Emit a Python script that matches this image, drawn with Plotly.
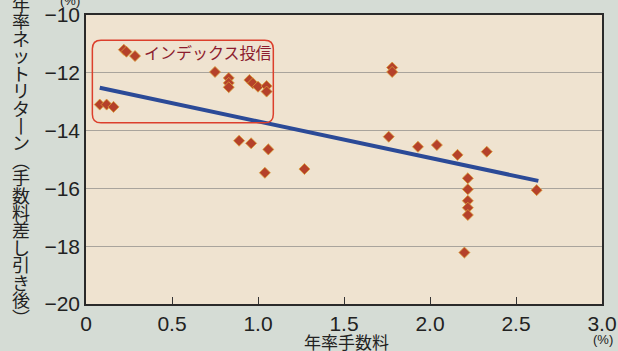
import plotly.graph_objects as go

# ---- data ----
fee = [0.08, 0.12, 0.16, 0.22, 0.235, 0.285, 0.75, 0.83, 0.83, 0.83,
       0.95, 0.97, 1.00, 1.05, 1.05, 0.89, 0.96, 1.06, 1.04, 1.27,
       1.78, 1.78, 1.76, 1.93, 2.04, 2.16, 2.33,
       2.22, 2.22, 2.22, 2.22, 2.22, 2.20, 2.62]
net_return = [-13.1, -13.1, -13.18, -11.2, -11.27, -11.42, -11.97, -12.18, -12.35, -12.5,
              -12.25, -12.36, -12.48, -12.46, -12.65, -14.35, -14.44, -14.65, -15.46, -15.33,
              -11.82, -11.97, -14.21, -14.56, -14.5, -14.84, -14.73,
              -15.65, -16.03, -16.43, -16.67, -16.92, -18.22, -16.06]
trend_x = [0.08, 2.63]
trend_y = [-12.52, -15.74]
x_ticks = [0, 0.5, 1.0, 1.5, 2.0, 2.5, 3.0]
x_ticklabels = ["0", "0.5", "1.0", "1.5", "2.0", "2.5", "3.0"]
y_ticks = [-20, -18, -16, -14, -12, -10]
index_box = dict(x0=0.037, x1=1.089, y0=-13.73, y1=-10.87)
index_label = "インデックス投信"
x_title = "年率手数料"
y_title_chars = list("年率ネットリタ") + ["丨"] + list("ン") + ["︵"] + list("手数料差し引き後") + ["︶"]

W, H = 618, 351
ML, MR, MT, MB = 86, 16, 15, 47
PW = W - ML - MR
PH = H - MT - MB

NUM_FONT = "Liberation Sans, Arial, sans-serif"
JP_FONT = "Noto Sans CJK JP, sans-serif"


def px_x(px):
    return (px - ML) / PW


def px_y(py):
    return (H - MB - py) / PH


fig = go.Figure()
fig.add_trace(go.Scatter(
    x=trend_x, y=trend_y, mode="lines",
    line=dict(color="#2b4a97", width=4), hoverinfo="skip", showlegend=False))
fig.add_trace(go.Scatter(
    x=fee, y=net_return, mode="markers",
    marker=dict(symbol="diamond", size=8.5, color="#b5412a",
                line=dict(color="#dba03a", width=0.8)),
    showlegend=False))

# rounded rectangle around index funds
b = index_box
rx, ry = 0.05, 0.3
path = (f"M {b['x0']+rx},{b['y1']} L {b['x1']-rx},{b['y1']} "
        f"Q {b['x1']},{b['y1']} {b['x1']},{b['y1']-ry} "
        f"L {b['x1']},{b['y0']+ry} Q {b['x1']},{b['y0']} {b['x1']-rx},{b['y0']} "
        f"L {b['x0']+rx},{b['y0']} Q {b['x0']},{b['y0']} {b['x0']},{b['y0']+ry} "
        f"L {b['x0']},{b['y1']-ry} Q {b['x0']},{b['y1']} {b['x0']+rx},{b['y1']} Z")
fig.add_shape(type="path", path=path, xref="x", yref="y",
              line=dict(color="#dc3f2c", width=1.5), layer="above")

fig.add_annotation(x=0.709, y=-11.28, xref="x", yref="y", text=index_label,
                   showarrow=False, font=dict(family=JP_FONT, size=16, color="#8c1d2e"))

# vertical y-axis title: one glyph per line, tight line spacing
ytitle = "<br>".join(f"<span style='font-size:18px'>{c}</span>" for c in y_title_chars)
fig.add_annotation(x=px_x(21), y=px_y(160), xref="paper", yref="paper",
                   text=ytitle, showarrow=False, xanchor="center", yanchor="middle",
                   align="center",
                   font=dict(family=JP_FONT, size=13.4, color="#222222"))

fig.add_annotation(x=px_x(70), y=px_y(1), xref="paper", yref="paper", text="(%)",
                   showarrow=False, xanchor="center", yanchor="middle",
                   font=dict(family=NUM_FONT, size=13, color="#222222"))
fig.add_annotation(x=px_x(603), y=px_y(339), xref="paper", yref="paper", text="(%)",
                   showarrow=False, xanchor="center", yanchor="middle",
                   font=dict(family=NUM_FONT, size=13, color="#222222"))
fig.add_annotation(x=px_x(346), y=px_y(341), xref="paper", yref="paper", text=x_title,
                   showarrow=False, xanchor="center", yanchor="middle",
                   font=dict(family=JP_FONT, size=17, color="#222222"))

fig.update_xaxes(range=[0, 3], tickvals=x_ticks, ticktext=x_ticklabels,
                 ticks="inside", ticklen=7, tickwidth=1, tickcolor="#333333",
                 showgrid=False, zeroline=False, automargin=False,
                 showline=True, linecolor="#2a2a2a", linewidth=1.5, mirror=True,
                 tickfont=dict(family=NUM_FONT, size=21, color="#222222"))
fig.update_yaxes(range=[-20, -10], tickvals=y_ticks,
                 ticks="", showgrid=True, gridcolor="#a9a49c", gridwidth=1,
                 zeroline=False, automargin=False,
                 showline=True, linecolor="#2a2a2a", linewidth=1.5, mirror=True,
                 tickfont=dict(family=NUM_FONT, size=21, color="#222222"))

fig.update_layout(
    width=W, height=H,
    margin=dict(l=ML, r=MR, t=MT, b=MB, autoexpand=False),
    paper_bgcolor="#d5dcd5", plot_bgcolor="#efe3d0",
    showlegend=False,
)

fig.write_html("out.html",
               config={"displayModeBar": False},
               post_script="document.body.style.margin='0';"
                           "document.body.style.background='#d5dcd5';")
